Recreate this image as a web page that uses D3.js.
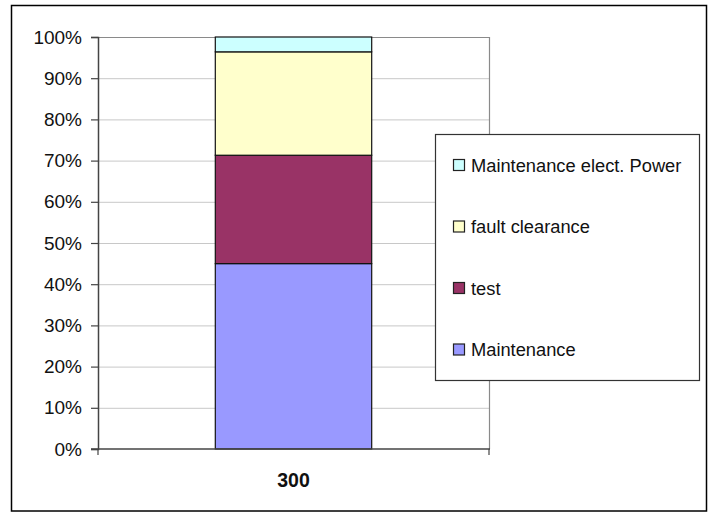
<!DOCTYPE html>
<html>
<head>
<meta charset="utf-8">
<script src="https://cdn.jsdelivr.net/npm/d3@7"></script>
<style>
  html, body { margin: 0; padding: 0; background: #fff; }
  svg { display: block; }
  text { font-family: "Liberation Sans", Arial, sans-serif; }
</style>
</head>
<body>
<svg id="chart" width="714" height="513"></svg>
<script>
// ---- data ----
const categories = ["300"];
const seriesNames = ["Maintenance", "test", "fault clearance", "Maintenance elect. Power"];
const seriesColors = ["#9999FF", "#993366", "#FFFFCC", "#CCFFFF"];
const maintenance = [45.0];
const test = [26.3];
const faultClearance = [25.1];
const maintenanceElectPower = [3.6];
const yTicks = [0, 10, 20, 30, 40, 50, 60, 70, 80, 90, 100];

const seriesValues = [maintenance, test, faultClearance, maintenanceElectPower];

// ---- layout ----
const svg = d3.select("#chart");
const plot = { left: 98, top: 37, right: 489, bottom: 449 };

// outer frame
svg.append("rect")
  .attr("x", 11.5).attr("y", 5.5).attr("width", 695).attr("height", 505.5)
  .attr("fill", "#fff").attr("stroke", "#000").attr("stroke-width", 1.5);

const x = d3.scaleBand().domain(categories).range([plot.left, plot.right]).paddingInner(0).paddingOuter(0);
const y = d3.scaleLinear().domain([0, 100]).range([plot.bottom, plot.top]);

// gridlines
svg.append("g").selectAll("line").data(yTicks.filter(d => d > 0 && d < 100)).join("line")
  .attr("x1", plot.left).attr("x2", plot.right)
  .attr("y1", d => y(d) + 0.5).attr("y2", d => y(d) + 0.5)
  .attr("stroke", "#c8c8c8").attr("stroke-width", 1);

// plot border top/right
svg.append("path")
  .attr("d", `M${plot.left},${plot.top + 0.5}H${plot.right + 0.5}V${plot.bottom}`)
  .attr("fill", "none").attr("stroke", "#8a8a8a").attr("stroke-width", 1.2);

// stacked bars
const table = categories.map((c, i) => {
  const o = { cat: c };
  seriesNames.forEach((s, j) => o[s] = seriesValues[j][i]);
  return o;
});
const stack = d3.stack().keys(seriesNames)(table);
const barWidth = x.bandwidth() / 2.5;
stack.forEach((layer, j) => {
  svg.append("g").selectAll("rect").data(layer).join("rect")
    .attr("x", d => x(d.data.cat) + (x.bandwidth() - barWidth) / 2)
    .attr("y", d => y(d[1]))
    .attr("width", barWidth)
    .attr("height", d => y(d[0]) - y(d[1]))
    .attr("fill", seriesColors[j])
    .attr("stroke", "#111").attr("stroke-width", 1.2);
});

// y axis
const yAxis = d3.axisLeft(y).tickValues(yTicks).tickFormat(d => d + "%").tickSize(7).tickPadding(9);
const gy = svg.append("g").attr("transform", `translate(${plot.left},0)`).call(yAxis);
gy.select(".domain").attr("stroke", "#444").attr("stroke-width", 1.5);
gy.selectAll(".tick line").attr("stroke", "#444").attr("stroke-width", 1.2);
gy.selectAll(".tick text").attr("font-size", 19).attr("fill", "#111")
  .attr("font-family", "'Liberation Sans', Arial, sans-serif");

// x axis
const gx = svg.append("g").attr("transform", `translate(0,${plot.bottom})`);
gx.append("line").attr("x1", plot.left - 7).attr("x2", plot.right + 1)
  .attr("y1", 0).attr("y2", 0).attr("stroke", "#444").attr("stroke-width", 1.5);
[plot.left, plot.right].forEach(px => {
  gx.append("line").attr("x1", px).attr("x2", px).attr("y1", 0).attr("y2", 6)
    .attr("stroke", "#444").attr("stroke-width", 1.2);
});
gx.selectAll("text.cat").data(categories).join("text").attr("class", "cat")
  .attr("x", d => x(d) + x.bandwidth() / 2).attr("y", 38)
  .attr("text-anchor", "middle").attr("font-size", 19.5).attr("font-weight", "bold").attr("fill", "#111")
  .text(d => d);

// legend
const lg = svg.append("g");
lg.append("rect").attr("x", 435.5).attr("y", 134.5).attr("width", 264).attr("height", 246)
  .attr("fill", "#fff").attr("stroke", "#333").attr("stroke-width", 1.2);
const legendOrder = seriesNames.map((s, i) => i).reverse();
legendOrder.forEach((si, k) => {
  const cy = 165 + k * 61.5;
  lg.append("rect").attr("x", 453.5).attr("y", cy - 5.5).attr("width", 11).attr("height", 11)
    .attr("fill", seriesColors[si]).attr("stroke", "#222").attr("stroke-width", 1.2);
  lg.append("text").attr("x", 471).attr("y", cy + 6.5).attr("font-size", 18.3).attr("fill", "#111")
    .text(seriesNames[si]);
});
</script>
</body>
</html>
